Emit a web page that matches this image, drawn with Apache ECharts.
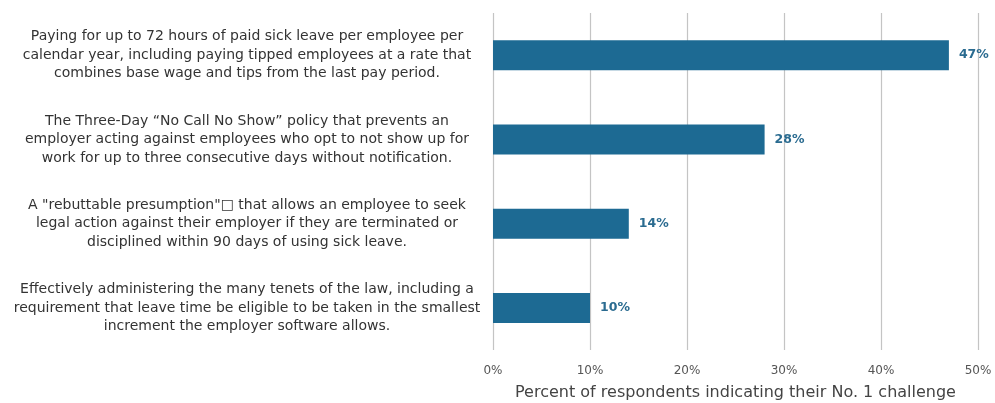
<!DOCTYPE html>
<html>
<head>
<meta charset="utf-8">
<script src="https://cdn.jsdelivr.net/npm/echarts@6/dist/echarts.min.js"></script>
<style>
  html, body { margin: 0; padding: 0; background: #ffffff; }
  #chart { width: 995px; height: 403px; }
</style>
</head>
<body>
<div id="chart"></div>
<script>
// Challenges, top to bottom
const categories = [
  'Paying for up to 72 hours of paid sick leave per employee per\ncalendar year, including paying tipped employees at a rate that\ncombines base wage and tips from the last pay period.',
  'The Three-Day \u201cNo Call No Show\u201d policy that prevents an\nemployer acting against employees who opt to not show up for\nwork for up to three consecutive days without notification.',
  'A "rebuttable presumption"\u25A1 that allows an employee to seek\nlegal action against their employer if they are terminated or\ndisciplined within 90 days of using sick leave.',
  'Effectively administering the many tenets of the law, including a\nrequirement that leave time be eligible to be taken in the smallest\nincrement the employer software allows.'
];
// Share of respondents naming each as their No. 1 challenge (%)
const values = [47, 28, 14, 10];
const xTicks = [0, 10, 20, 30, 40, 50];
const axisTitle = 'Percent of respondents indicating their No. 1 challenge';

const FONT = 'DejaVu Sans';
const chart = echarts.init(document.getElementById('chart'), null, { renderer: 'canvas' });
chart.setOption({
  backgroundColor: '#ffffff',
  animation: false,
  grid: {
    left: 493, right: 17, top: 13, bottom: 53,
    containLabel: false,
    outerBoundsMode: 'none'
  },
  xAxis: {
    type: 'value',
    min: xTicks[0],
    max: xTicks[xTicks.length - 1],
    interval: 10,
    axisLine: { show: false },
    axisTick: { show: false },
    splitLine: { show: true, lineStyle: { color: '#c4c4c4', width: 1.2 } },
    axisLabel: {
      formatter: v => v + '%',
      color: '#555555',
      fontFamily: FONT,
      fontSize: 12,
      margin: 15
    },
    name: axisTitle,
    nameLocation: 'middle',
    nameGap: 35,
    nameTextStyle: { color: '#444444', fontFamily: FONT, fontSize: 16 }
  },
  yAxis: {
    type: 'category',
    data: categories,
    inverse: true,
    axisLine: { show: false },
    axisTick: { show: false },
    axisLabel: {
      color: '#333333',
      fontFamily: FONT,
      fontSize: 14,
      lineHeight: 18.5,
      align: 'center',
      margin: 246
    }
  },
  series: [{
    type: 'bar',
    data: values,
    barWidth: 30,
    itemStyle: { color: '#1d6a93' },
    label: {
      show: true,
      position: 'right',
      distance: 10,
      formatter: p => p.value + '%',
      color: '#2a6b90',
      fontFamily: FONT,
      fontWeight: 'bold',
      fontSize: 12.5
    }
  }]
});
</script>
</body>
</html>
